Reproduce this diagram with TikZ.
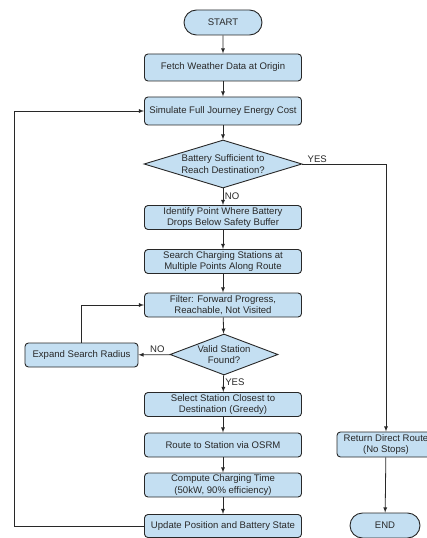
\documentclass[tikz,border=0pt]{standalone}
\usepackage{fontspec}
\setmainfont{Liberation Sans}
\usetikzlibrary{arrows,shapes.geometric,shapes.misc}
\definecolor{boxblue}{RGB}{196,223,242}
\definecolor{edgegray}{RGB}{40,40,40}

\begin{document}
\begin{tikzpicture}[x=1bp,y=-1bp]
\tikzstyle{every node}=[font=\fontsize{9.6}{11.6}\selectfont, text=edgegray, inner sep=1bp]
\tikzstyle{proc}=[draw=edgegray, line width=0.9bp, fill=boxblue, rounded corners=3.5bp, minimum width=157bp, minimum height=24bp, align=center]
\tikzstyle{term}=[draw=edgegray, line width=0.9bp, fill=boxblue, rounded rectangle, minimum height=25bp]
\tikzstyle{dec}=[draw=edgegray, line width=0.9bp, fill=boxblue, diamond, inner sep=0bp, align=center]
\tikzstyle{lbl}=[inner sep=1.5bp, font=\fontsize{9.6}{11}\selectfont]
\useasboundingbox (0,0) rectangle (426,538);
\draw (223,22.5) node (start) [term, minimum width=80bp] {START};
\draw (223,67.5) node (fetch) [proc, minimum height=27bp] {Fetch Weather Data at Origin};
\draw (223,111) node (sim) [proc, minimum height=28bp] {Simulate Full Journey Energy Cost};
\draw (223,164) node (dec1) [dec, aspect=3.3, minimum width=158bp, minimum height=48bp] {Battery Sufficient to\\Reach Destination?};
\draw (223,217.5) node (ident) [proc] {Identify Point Where Battery\\Drops Below Safety Buffer};
\draw (223,261.5) node (search) [proc] {Search Charging Stations at\\Multiple Points Along Route};
\draw (223,305) node (filter) [proc] {Filter: Forward Progress,\\Reachable, Not Visited};
\draw (224,354.5) node (dec2) [dec, aspect=2.63, minimum width=108bp, minimum height=41bp] {Valid Station\\Found?};
\draw (81.5,355) node (expand) [proc, minimum width=113bp] {Expand Search Radius};
\draw (223,404.5) node (select) [proc] {Select Station Closest to\\Destination (Greedy)};
\draw (223,445) node (route) [proc] {Route to Station via OSRM};
\draw (223,485) node (compute) [proc] {Compute Charging Time\\(50kW, 90\% efficiency)};
\draw (223,526) node (update) [proc, minimum height=23bp] {Update Position and Battery State};
\draw (386,444.5) node (ret) [proc, minimum width=98bp, minimum height=25bp] {Return Direct Route\\(No Stops)};
\draw (385,525.5) node (end) [term, minimum width=72bp] {END};
\coordinate (back) at (14,526);
\begin{scope}[->, >=latex, line width=0.8bp, draw=edgegray]
\draw (start) -- (fetch);
\draw (fetch) -- (sim);
\draw (sim) -- (dec1);
\draw (dec1) -- node[lbl, right, pos=0.45] {NO} (ident);
\draw (ident) -- (search);
\draw (search) -- (filter);
\draw (filter) -- (dec2);
\draw (dec2) -- node[lbl, above, pos=0.4] {NO} (expand);
\draw (expand.north) |- (filter.west);
\draw (dec2) -- node[lbl, right, pos=0.4] {YES} (select);
\draw (select) -- (route);
\draw (route) -- (compute);
\draw (compute) -- (update);
\draw (update.west) -- (back) |- (sim.west);
\draw (dec1.east) -| node[lbl, above right, pos=0.02] {YES} (ret.north);
\draw (ret) -- (end);
\end{scope}
\end{tikzpicture}
\end{document}
